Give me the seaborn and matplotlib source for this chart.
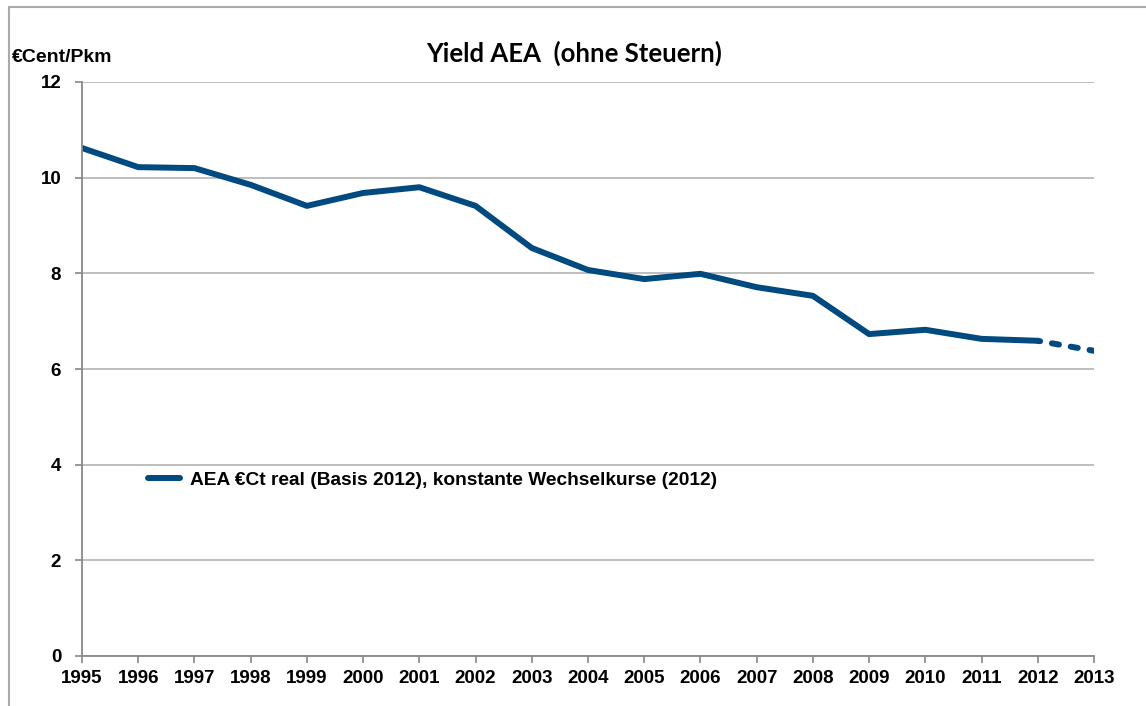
import matplotlib
matplotlib.use("Agg")
import matplotlib.pyplot as plt
from matplotlib.lines import Line2D
import seaborn as sns
import pandas as pd

years = list(range(1995, 2014))
values = [10.62, 10.22, 10.20, 9.85, 9.41, 9.68, 9.80, 9.41, 8.53, 8.07,
          7.88, 7.99, 7.71, 7.53, 6.73, 6.82, 6.63, 6.59, 6.38]
series_label = "AEA €Ct real (Basis 2012), konstante Wechselkurse (2012)"
title = "Yield AEA  (ohne Steuern)"
ylabel = "€Cent/Pkm"
yticks = [0, 2, 4, 6, 8, 10, 12]

sns.set_theme(style="white")
plt.rcParams['font.family'] = ['Liberation Sans', 'DejaVu Sans']
plt.rcParams['text.color'] = 'black'
plt.rcParams['xtick.labelcolor'] = 'black'
plt.rcParams['ytick.labelcolor'] = 'black'

df = pd.DataFrame({"year": years, "value": values})
solid = df[df["year"] <= 2012]
dashed = df[df["year"] >= 2012]

color = "#004a80"
fs = 13.5
fig = plt.figure(figsize=(11.46, 7.06), dpi=100)
ax = fig.add_axes([82/1146, 1-656/706, (1094-82)/1146, (656-82)/706])

sns.lineplot(data=solid, x="year", y="value", ax=ax, color=color, lw=4.3,
             label=series_label, solid_capstyle="round")
sns.lineplot(data=dashed, x="year", y="value", ax=ax, color=color, lw=4.3,
             dashes=False, linestyle=(0.8, (1.2, 2.0)), dash_capstyle="round")

ax.set_xlim(1995, 2013)
ax.set_ylim(0, 12)
ax.set_xticks(years)
ax.set_yticks(yticks)
ax.set_xticklabels([str(y) for y in years], fontsize=fs, fontweight="bold", color="black")
ax.set_yticklabels([str(y) for y in yticks], fontsize=fs, fontweight="bold", color="black")
ax.set_xlabel("")
ax.set_ylabel("")
ax.yaxis.grid(True, color="#b3b3b3", lw=1.2)
ax.set_axisbelow(True)
for s in ["top", "right"]:
    ax.spines[s].set_visible(False)
for s in ["left", "bottom"]:
    ax.spines[s].set_color("#888888")
    ax.spines[s].set_linewidth(1.3)
ax.tick_params(axis="x", which="major", direction="out", length=5, width=1.2,
               color="#888888", pad=5, bottom=True)
ax.tick_params(axis="y", which="major", direction="out", length=5, width=1.2,
               color="#888888", pad=10, left=True)

handles = [Line2D([0], [0], color=color, lw=4.3, solid_capstyle="round")]
leg = ax.legend(handles, [series_label], loc="upper left",
                bbox_to_anchor=((140-82)/1012, (656-464)/574), frameon=False,
                prop={"weight": "bold", "size": 13.8}, handlelength=1.7,
                handletextpad=0.5, borderaxespad=0)
for t in leg.get_texts():
    t.set_color("black")

fig.text(574/1146, 1-53/706, title, ha="center", va="center", color="black",
         fontsize=18.5, fontweight="bold", family=["Lato", "DejaVu Sans"])
fig.text(12/1146, 1-57/706, ylabel, ha="left", va="center", color="black",
         fontsize=14, fontweight="bold")

fig.add_artist(Line2D([9/1146, 1.0], [1-7/706, 1-7/706], transform=fig.transFigure,
                      color="#aaaaaa", lw=1.5))
fig.add_artist(Line2D([9/1146, 9/1146], [0.0, 1-7/706], transform=fig.transFigure,
                      color="#aaaaaa", lw=1.5))

fig.savefig("out.png", dpi=100, facecolor="white")
